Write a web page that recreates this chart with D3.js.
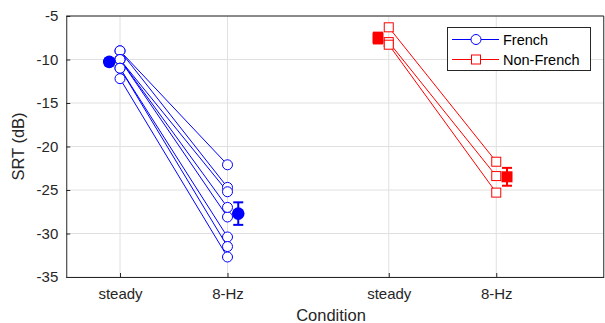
<!DOCTYPE html>
<html>
<head>
<meta charset="utf-8">
<script src="https://cdn.jsdelivr.net/npm/d3@7"></script>
<style>
  body { margin: 0; background: #fff; }
  svg { font-family: "Liberation Sans", Arial, sans-serif; }
</style>
</head>
<body>
<div id="chart"></div>
<script>
// condition positions on the x axis and their labels
const tickPos = [1, 2, 3.5, 4.5];
const tickLabels = ["steady", "8-Hz", "steady", "8-Hz"];
const yTicks = [-5, -10, -15, -20, -25, -30, -35];

// French listeners: steady -> 8-Hz, one entry per subject
const frenchSteady = [-9.0, -9.0, -10.0, -10.0, -10.0, -11.0, -11.0, -12.2];
const french8Hz = [-22.1, -24.7, -25.2, -28.1, -27.0, -30.4, -31.5, -32.7];

// Non-French listeners
const nonFrenchSteady = [-6.3, -8.0, -8.3];
const nonFrench8Hz = [-21.75, -23.4, -25.3];

const width = 605, height = 323;
const margin = {left: 66.25, right: 1.25, top: 16, bottom: 46};

const svg = d3.select("#chart").append("svg")
    .attr("width", width)
    .attr("height", height);

const x = d3.scaleLinear().domain([0.5, 5.5]).range([margin.left, width - margin.right]);
const y = d3.scaleLinear().domain([-35, -5]).range([height - margin.bottom, margin.top]);

// grid
svg.append("g").selectAll("line")
    .data(yTicks)
    .enter().append("line")
    .attr("x1", x(0.5)).attr("x2", x(5.5))
    .attr("y1", d => y(d)).attr("y2", d => y(d))
    .style("stroke", "#e0e0e0").style("stroke-width", 1);

svg.append("g").selectAll("line")
    .data(tickPos)
    .enter().append("line")
    .attr("x1", d => x(d)).attr("x2", d => x(d))
    .attr("y1", y(-5)).attr("y2", y(-35))
    .style("stroke", "#e0e0e0").style("stroke-width", 1);

// axes
const xAxis = d3.axisBottom(x).tickValues(tickPos)
    .tickFormat((d, i) => tickLabels[i]).tickSizeInner(-4).tickSizeOuter(0).tickPadding(11);
const yAxis = d3.axisLeft(y).tickValues(yTicks)
    .tickFormat(d3.format("d")).tickSizeInner(-4).tickSizeOuter(0).tickPadding(8);

const gx = svg.append("g").attr("transform", `translate(0,${y(-35)})`).call(xAxis);
const gy = svg.append("g").attr("transform", `translate(${x(0.5)},0)`).call(yAxis);

[gx, gy].forEach(g => {
    g.selectAll("text").style("font-size", "15px").style("fill", "#262626");
    g.selectAll("line").style("stroke", "#262626");
    g.select(".domain").style("stroke", "#262626");
});
gy.selectAll("text").text(d => d3.format("d")(d).replace("−", "-"));

// box top / right
svg.append("line")
    .attr("x1", x(0.5)).attr("x2", x(5.5)).attr("y1", y(-5)).attr("y2", y(-5))
    .style("stroke", "#262626");
svg.append("line")
    .attr("x1", x(5.5)).attr("x2", x(5.5)).attr("y1", y(-5)).attr("y2", y(-35))
    .style("stroke", "#262626");

// axis labels
svg.append("text")
    .attr("x", (x(0.5) + x(5.5)) / 2 - 4)
    .attr("y", 321)
    .style("text-anchor", "middle")
    .style("font-size", "16.5px")
    .style("fill", "#262626")
    .text("Condition");

svg.append("text")
    .attr("transform", `translate(24,${(y(-5) + y(-35)) / 2}) rotate(-90)`)
    .style("text-anchor", "middle")
    .style("font-size", "16.5px")
    .style("fill", "#262626")
    .text("SRT (dB)");

function sem(arr) {
    return d3.deviation(arr) / Math.sqrt(arr.length);
}

function drawGroup(steady, hz, x1, x2, color, shape) {
    const g = svg.append("g");
    const pairs = steady.map((v, i) => [v, hz[i]]);

    g.selectAll(".pair")
        .data(pairs)
        .enter().append("line")
        .attr("x1", x(x1)).attr("x2", x(x2))
        .attr("y1", d => y(d[0])).attr("y2", d => y(d[1]))
        .style("stroke", color).style("stroke-width", 1);

    const pts = [];
    pairs.forEach(d => {
        pts.push({cx: x1, v: d[0]});
        pts.push({cx: x2, v: d[1]});
    });

    if (shape === "circle") {
        g.selectAll(".pt").data(pts).enter().append("circle")
            .attr("cx", d => x(d.cx)).attr("cy", d => y(d.v)).attr("r", 5)
            .style("fill", "#fff").style("stroke", color).style("stroke-width", 1);
    } else {
        g.selectAll(".pt").data(pts).enter().append("rect")
            .attr("x", d => x(d.cx) - 4.5).attr("y", d => y(d.v) - 4.5)
            .attr("width", 9).attr("height", 9)
            .style("fill", "#fff").style("stroke", color).style("stroke-width", 1);
    }

    // means with error bars
    const means = [
        {cx: x1 - 0.1, m: d3.mean(steady), e: sem(steady)},
        {cx: x2 + 0.1, m: d3.mean(hz), e: sem(hz)}
    ];
    means.forEach(d => {
        const px = x(d.cx);
        g.append("line")
            .attr("x1", px).attr("x2", px)
            .attr("y1", y(d.m - d.e)).attr("y2", y(d.m + d.e))
            .style("stroke", color).style("stroke-width", 2);
        [d.m - d.e, d.m + d.e].forEach(v => {
            g.append("line")
                .attr("x1", px - 5).attr("x2", px + 5)
                .attr("y1", y(v)).attr("y2", y(v))
                .style("stroke", color).style("stroke-width", 2);
        });
        if (shape === "circle") {
            g.append("circle").attr("cx", px).attr("cy", y(d.m)).attr("r", 6.3)
                .style("fill", color);
        } else {
            g.append("rect").attr("x", px - 5.5).attr("y", y(d.m) - 5.5)
                .attr("width", 11).attr("height", 11)
                .style("fill", color);
        }
    });
}

drawGroup(frenchSteady, french8Hz, tickPos[0], tickPos[1], "#0000ff", "circle");
drawGroup(nonFrenchSteady, nonFrench8Hz, tickPos[2], tickPos[3], "#ff0000", "square");

// legend
const legend = svg.append("g");
legend.append("rect")
    .attr("x", 447.5).attr("y", 27.5).attr("width", 143).attr("height", 43)
    .style("fill", "#fff").style("stroke", "#262626").style("stroke-width", 1);

const legendItems = [
    {label: "French", color: "#0000ff", shape: "circle", yy: 39.5},
    {label: "Non-French", color: "#ff0000", shape: "square", yy: 59.5}
];
legendItems.forEach(d => {
    legend.append("line")
        .attr("x1", 452).attr("x2", 499).attr("y1", d.yy).attr("y2", d.yy)
        .style("stroke", d.color);
    if (d.shape === "circle") {
        legend.append("circle").attr("cx", 476).attr("cy", d.yy).attr("r", 5)
            .style("fill", "#fff").style("stroke", d.color);
    } else {
        legend.append("rect").attr("x", 471.5).attr("y", d.yy - 4.5)
            .attr("width", 9).attr("height", 9)
            .style("fill", "#fff").style("stroke", d.color);
    }
    legend.append("text")
        .attr("x", 503).attr("y", d.yy + 5)
        .style("font-size", "14.5px").style("fill", "#000")
        .text(d.label);
});
</script>
</body>
</html>
